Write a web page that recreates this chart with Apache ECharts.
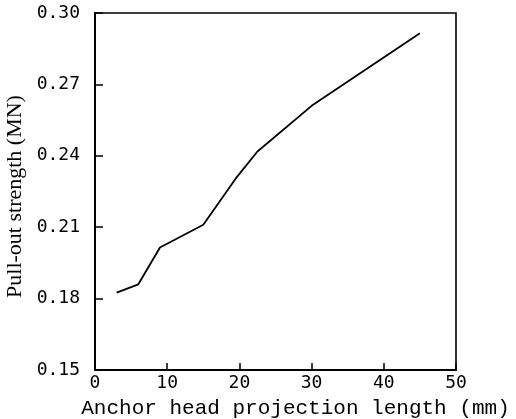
<!DOCTYPE html>
<html>
<head>
<meta charset="utf-8">
<script src="https://cdn.jsdelivr.net/npm/echarts@6/dist/echarts.min.js"></script>
<style>
  html, body { margin: 0; padding: 0; background: #fff; }
  #chart { width: 516px; height: 419px; }
</style>
</head>
<body>
<div id="chart"></div>
<script>
// Anchor head projection length (mm)
const projectionLength = [3, 6, 9, 15, 19.5, 22.5, 30, 45];
// Pull-out strength (MN)
const pullOutStrength = [0.1825, 0.186, 0.2015, 0.211, 0.2305, 0.2418, 0.261, 0.2915];

const xTicks = [0, 10, 20, 30, 40, 50];
const yTicks = [0.15, 0.18, 0.21, 0.24, 0.27, 0.30];

const points = projectionLength.map((x, i) => [x, pullOutStrength[i]]);

const chart = echarts.init(document.getElementById('chart'), null, { renderer: 'canvas' });

const tickFont = {
  color: '#000',
  fontFamily: 'DejaVu Sans Mono',
  fontSize: 18
};

chart.setOption({
  animation: false,
  backgroundColor: '#fff',
  grid: {
    left: 95, top: 13, right: 60, bottom: 49,
    outerBoundsMode: 'none',
    containLabel: false,
    show: true,
    borderColor: '#000',
    borderWidth: 1.6,
    backgroundColor: 'transparent'
  },
  xAxis: {
    type: 'value',
    min: xTicks[0],
    max: xTicks[xTicks.length - 1],
    interval: 10,
    name: 'Anchor head projection length (mm)',
    nameLocation: 'middle',
    nameGap: 28,
    nameTextStyle: {
      color: '#000',
      fontFamily: 'Liberation Mono',
      fontSize: 21,
      padding: [0, 0, 0, 40]
    },
    axisLine: { show: true, lineStyle: { color: '#000', width: 2 } },
    axisTick: { show: true, inside: true, length: 7, lineStyle: { color: '#000', width: 1.5 } },
    axisLabel: Object.assign({ margin: 4 }, tickFont),
    splitLine: { show: false }
  },
  yAxis: {
    type: 'value',
    min: yTicks[0],
    max: yTicks[yTicks.length - 1],
    interval: 0.03,
    name: 'Pull-out strength (MN)',
    nameLocation: 'middle',
    nameGap: 68,
    nameTextStyle: {
      color: '#000',
      fontFamily: 'Liberation Serif',
      fontSize: 22,
      padding: [0, 10, 0, 0]
    },
    axisLine: { show: true, lineStyle: { color: '#000', width: 2 } },
    axisTick: { show: true, inside: true, length: 8, lineStyle: { color: '#000', width: 1.5 } },
    axisLabel: Object.assign({
      margin: 15,
      formatter: v => v.toFixed(2)
    }, tickFont),
    splitLine: { show: false }
  },
  series: [{
    type: 'line',
    data: points,
    showSymbol: false,
    symbol: 'none',
    lineStyle: { color: '#000', width: 1.8 }
  }]
});
</script>
</body>
</html>
